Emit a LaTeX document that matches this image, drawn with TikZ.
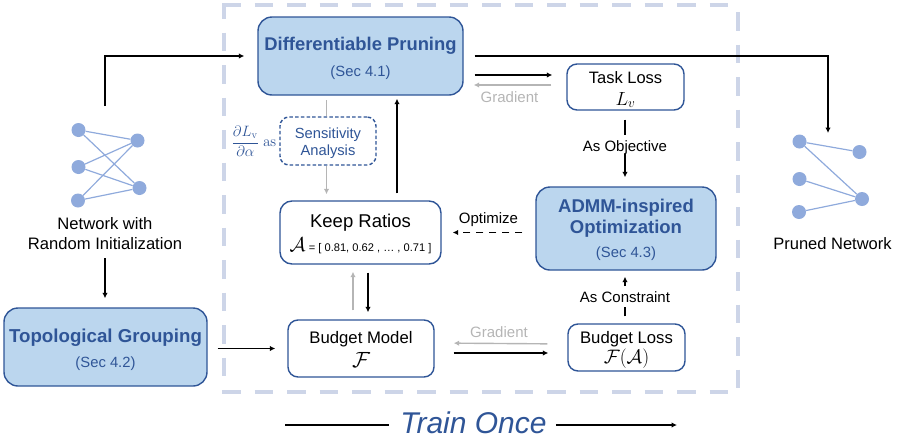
\documentclass[tikz,border=0pt]{standalone}
\usepackage{fix-cm}
\usepackage{amsmath}
\usepackage[no-math]{fontspec}
\setmainfont{Liberation Sans}
\usetikzlibrary{arrows.meta,positioning}
\definecolor{bluetxt}{HTML}{2F5597}
\definecolor{bluefill}{HTML}{BBD6EE}
\definecolor{netblue}{HTML}{8FAADC}
\definecolor{graytxt}{HTML}{B5B5B5}
\definecolor{dashcol}{HTML}{CDD5E8}
\newcommand{\fs}[1]{\fontsize{#1}{#1}\selectfont}
% one text line, its baseline #1 pt below the centre of the node
\newcommand{\tline}[2]{\makebox[0pt]{\raisebox{-#1pt}[0pt][0pt]{#2}}}
\tikzset{
  x=1pt,y=-1pt,
  bluebox/.style={draw=bluetxt,fill=bluefill,line width=1.4pt,rounded corners=14pt,inner sep=0pt,text=bluetxt},
  whitebox/.style={draw=bluetxt,fill=white,line width=1.4pt,rounded corners=10pt,inner sep=0pt,text=black},
  dashbox/.style={draw=bluetxt,fill=white,line width=1.4pt,rounded corners=9pt,inner sep=0pt,text=bluetxt,dash pattern=on 3.5pt off 2.2pt},
  dot/.style={circle,fill=netblue,minimum size=14pt,inner sep=0pt},
  edge/.style={draw=netblue,line width=1.2pt},
  flow/.style={draw=black,line width=1.7pt,-{Latex[length=5.5pt,width=5.5pt]}},
  flowgray/.style={draw=graytxt,line width=1.4pt,-{Latex[length=5.5pt,width=5.5pt]}},
  plainline/.style={draw=black,line width=1.7pt},
  frame/.style={draw=dashcol,line width=4pt,dash pattern=on 18.5pt off 14pt},
  lab/.style={inner sep=0pt,font=\fs{15}},
}
\begin{document}
\begin{tikzpicture}
\useasboundingbox (0,0) rectangle (898,437);
% training frame
\draw[frame] (222,5) -- (731,5);
\draw[frame] (738,12) -- (738,388);
\draw[frame] (222,392) -- (728,392);
\draw[frame,dash phase=5pt] (224,5) -- (224,377);
% boxes
\node[bluebox,minimum width=205pt,minimum height=78pt] (dp) at (360.5,56)
  {\tline{-5.3}{\fs{18.4}\bfseries Differentiable Pruning}\tline{20.7}{\fs{14.8}(Sec 4.1)}};
\node[dashbox,minimum width=96pt,minimum height=48pt] (sens) at (328,141)
  {\tline{-2.7}{\fs{14.7}Sensitivity}\tline{14}{\fs{14.7}Analysis}};
\node[whitebox,minimum width=161pt,minimum height=63pt,rounded corners=12pt] (keep) at (360.5,232.5)
  {\tline{-4.8}{\fs{18.5}Keep Ratios}\tline{18.5}{\fs{20}$\mathcal{A}$\,\fs{11.1}= [ 0.81, 0.62 , … , 0.71 ]}};
\node[whitebox,minimum width=117pt,minimum height=46pt] (task) at (625.5,87)
  {\tline{-4}{\fs{16.5}Task Loss}\tline{18}{\fs{19}$L_v$}};
\node[bluebox,minimum width=180pt,minimum height=83pt] (admm) at (626,228.5)
  {\tline{-16.5}{\fs{18.5}\bfseries ADMM-inspired}\tline{5.2}{\fs{18.5}\bfseries Optimization}\tline{29}{\fs{14.8}(Sec 4.3)}};
\node[whitebox,minimum width=146pt,minimum height=57pt] (budget) at (361,348.5)
  {\tline{-4.8}{\fs{16.7}Budget Model}\tline{18.5}{\fs{22}$\mathcal{F}$}};
\node[whitebox,minimum width=117pt,minimum height=47pt] (bloss) at (626.5,347.5)
  {\tline{-4.5}{\fs{16.7}Budget Loss}\tline{16}{\fs{19.5}$\mathcal{F}(\mathcal{A})$}};
\node[bluebox,minimum width=203pt,minimum height=78pt] (topo) at (105.5,347)
  {\tline{-5}{\fs{18.7}\bfseries Topological Grouping}\tline{20}{\fs{14.8}(Sec 4.2)}};
% left network
\node[dot] (a1) at (78.5,130) {};
\node[dot] (a2) at (78.5,167) {};
\node[dot] (a3) at (78,200.5) {};
\node[dot] (b1) at (137.5,140.5) {};
\node[dot] (b2) at (139.5,188) {};
\foreach \s in {a1,a2,a3}\foreach \t in {b1,b2}{\draw[edge] (\s) -- (\t);}
\node[align=center,inner sep=0pt,font=\fs{16.6}] (netlabel) at (105,234) {Network with\\[3.4pt]Random Initialization};
% right network
\node[dot] (p1) at (799.5,141.5) {};
\node[dot] (p2) at (799.5,179) {};
\node[dot] (p3) at (799,212) {};
\node[dot] (q1) at (859.5,152) {};
\node[dot] (q2) at (862,199) {};
\draw[edge] (p1) -- (q1);
\draw[edge] (p1) -- (q2);
\draw[edge] (p2) -- (q2);
\draw[edge] (p3) -- (q2);
\node[inner sep=0pt,font=\fs{16.5},anchor=base] (prunedlabel) at (832.5,249) {Pruned Network};
% labels
\node[inner sep=0pt,text=bluetxt,font=\fs{15}] (fraclabel) at (254,141.5) {$\dfrac{\partial L_{\mathrm{v}}}{\partial\alpha}\ \mathrm{as}$};
\node[lab,text=graytxt,anchor=base] (grad1) at (509.5,102) {Gradient};
\node[lab,text=graytxt,anchor=base] (grad2) at (499,337) {Gradient};
\node[lab,anchor=base] (optlabel) at (488.5,223) {Optimize};
% connectors
\coordinate (netstart) at (105,106);
\coordinate (prunedtop) at (828,133);
\draw[flow,shorten >=13pt] (netstart) |- (dp.west);
\draw[flow,shorten <=11pt] (dp.east) -| (prunedtop);
\draw[flow,shorten <=11pt,shorten >=14pt] ([yshift=-19pt]dp.east) -- ([yshift=12pt]task.west);
\draw[flowgray,shorten <=15pt,shorten >=10pt] ([yshift=2pt]task.west) -- ([yshift=-29pt]dp.east);
\draw[draw=graytxt,line width=1.4pt,shorten >=4pt] ([xshift=-1.5pt]sens.north) -- ([xshift=-1.5pt]sens.north |- dp.south);
\draw[flowgray,shorten >=6pt] ([xshift=-1.5pt]sens.south) -- ([xshift=-1.5pt]sens.south |- keep.north);
\draw[flow,shorten <=7pt,shorten >=3pt] ([xshift=36.5pt]keep.north) -- ([xshift=36.5pt]keep.north |- dp.south);
\draw[flowgray,shorten <=9pt,shorten >=7pt] ([xshift=-8pt]budget.north) -- ([xshift=-8pt]budget.north |- keep.south);
\draw[flow,shorten <=8pt,shorten >=7pt] ([xshift=7.5pt]keep.south) -- ([xshift=7.5pt]keep.south |- budget.north);
\draw[flow,dash pattern=on 7pt off 6pt,shorten <=13pt,shorten >=11pt] (admm.west |- keep.east) -- (keep.east);
\draw[plainline,shorten <=9pt] ([xshift=-0.5pt]task.south) -- ([xshift=-0.5pt,yshift=-24pt]task.south);
\draw[flow,shorten <=-1pt,shorten >=9pt] ([xshift=-0.5pt]task.south |- 0,155) -- ([xshift=-0.5pt]task.south |- admm.north);
\node[lab,anchor=base] (objlabel) at (625,151) {As Objective};
\draw[plainline,shorten <=7pt] ([xshift=-1.5pt]bloss.north) -- ([xshift=-1.5pt]bloss.north |- 0,307);
\draw[flow,shorten >=6pt] ([xshift=-1.5pt]bloss.north |- 0,286) -- ([xshift=-1.5pt]bloss.north |- admm.south);
\node[lab,anchor=base] (conlabel) at (625,302) {As Constraint};
\draw[flowgray,shorten <=20pt,shorten >=19pt] ([yshift=4.5pt]bloss.west |- budget.east) -- ([yshift=5.5pt]budget.east);
\draw[flow,shorten <=19pt,shorten >=19pt] ([yshift=-4.5pt]budget.east) -- ([yshift=-4.5pt]budget.east -| bloss.west);
\draw[flow,shorten <=8pt,shorten >=9pt] (netlabel.south) -- (netlabel.south |- topo.north);
\draw[flow,shorten <=10pt,shorten >=12pt] (topo.east |- budget.west) -- (budget.west);
% Train Once
\node[inner sep=0pt,anchor=base,text=bluetxt,font=\fs{30}\itshape] (train) at (473.5,433.5) {Train Once};
\coordinate (trainstart) at (285,425);
\coordinate (trainend) at (677,425);
\draw[plainline,shorten >=11pt] (trainstart) -- (train.west |- trainstart);
\draw[flow,shorten <=9pt] (train.east |- trainend) -- (trainend);
\end{tikzpicture}
\end{document}
